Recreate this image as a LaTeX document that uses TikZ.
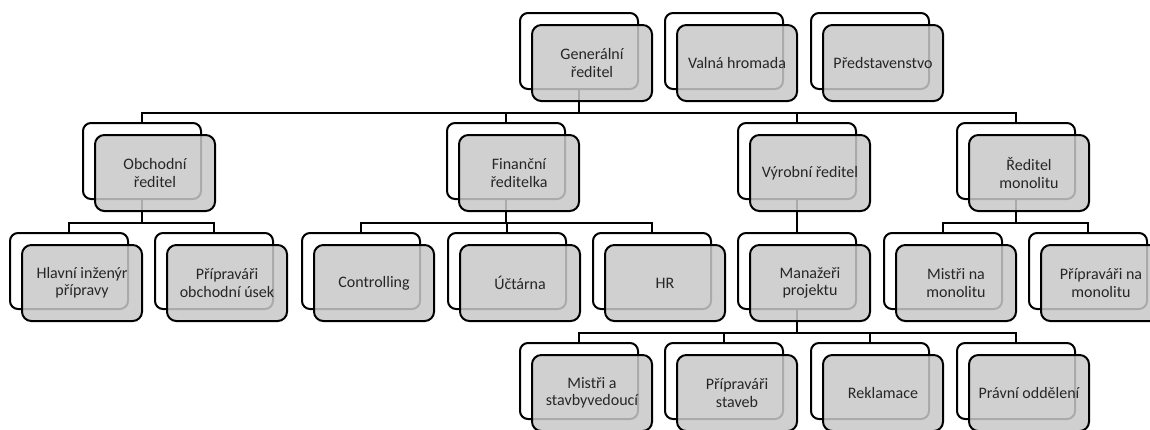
\documentclass[tikz,border=0pt]{standalone}
\usepackage{fontspec}
\setmainfont{Carlito}
\begin{document}
\begin{tikzpicture}[x=0.75pt,y=-0.75pt,
  backbox/.style={draw=black,line width=1.5pt,fill=white,rounded corners=6pt,
    minimum width=88.5pt,minimum height=57pt,inner sep=0pt},
  frontbox/.style={draw=black,line width=1.5pt,fill=cardgray,fill opacity=0.85,
    text opacity=1,rounded corners=7pt,minimum width=90pt,minimum height=57pt,
    inner sep=0pt,align=center,text=black!85,font=\fontsize{12}{13}\selectfont},
  link/.style={draw=black,line width=1.5pt}]
\definecolor{cardgray}{RGB}{200,200,200}
\clip (0,0) rectangle (1150,429);
\fill[white] (0,0) rectangle (1150,429);

% back cards
\node[backbox] (gen-b)  at (579,51) {};
\node[backbox] (valna-b) at (724,51) {};
\node[backbox] (pred-b) at (870,51) {};

\node[backbox] (obch-b) at (142,161) {};
\node[backbox] (fin-b)  at (506,161) {};
\node[backbox] (vyr-b)  at (797,161) {};
\node[backbox] (mono-b) at (1016,161) {};

\node[backbox] (hlav-b) at (69,271) {};
\node[backbox] (pobch-b) at (214,271) {};
\node[backbox] (ctrl-b) at (361,271) {};
\node[backbox] (ucet-b) at (507,271) {};
\node[backbox] (hr-b)   at (652,271) {};
\node[backbox] (man-b)  at (797,271) {};
\node[backbox] (mmon-b) at (943,271) {};
\node[backbox] (pmon-b) at (1088,271) {};

\node[backbox] (mist-b) at (579,381) {};
\node[backbox] (pst-b)  at (724,381) {};
\node[backbox] (rekl-b) at (870,381) {};
\node[backbox] (prav-b) at (1016,381) {};

% connectors
\draw[link] (gen-b.south) -- ++(0,23) -| (obch-b.north);
\draw[link] (gen-b.south) -- ++(0,23) -| (fin-b.north);
\draw[link] (gen-b.south) -- ++(0,23) -| (vyr-b.north);
\draw[link] (gen-b.south) -- ++(0,23) -| (mono-b.north);

\draw[link] (obch-b.south) -- ++(0,23) -| (hlav-b.north);
\draw[link] (obch-b.south) -- ++(0,23) -| (pobch-b.north);

\draw[link] (fin-b.south) -- ++(0,23) -| (ctrl-b.north);
\draw[link] (fin-b.south) -- ++(0,23) -| (ucet-b.north);
\draw[link] (fin-b.south) -- ++(0,23) -| (hr-b.north);

\draw[link] (vyr-b.south) -- (man-b.north);

\draw[link] (mono-b.south) -- ++(0,23) -| (mmon-b.north);
\draw[link] (mono-b.south) -- ++(0,23) -| (pmon-b.north);

\draw[link] (man-b.south) -- ++(0,23) -| (mist-b.north);
\draw[link] (man-b.south) -- ++(0,23) -| (pst-b.north);
\draw[link] (man-b.south) -- ++(0,23) -| (rekl-b.north);
\draw[link] (man-b.south) -- ++(0,23) -| (prav-b.north);

% front cards
\node[frontbox] (gen)   at ([shift={(13,12)}]gen-b.center) {Generální\\ředitel};
\node[frontbox] (valna) at ([shift={(13,12)}]valna-b.center) {Valná hromada};
\node[frontbox] (pred)  at ([shift={(13,12)}]pred-b.center) {Představenstvo};

\node[frontbox] (obch)  at ([shift={(13,12)}]obch-b.center) {Obchodní\\ředitel};
\node[frontbox] (fin)   at ([shift={(13,12)}]fin-b.center) {Finanční\\ředitelka};
\node[frontbox] (vyr)   at ([shift={(13,12)}]vyr-b.center) {Výrobní ředitel};
\node[frontbox] (mono)  at ([shift={(13,12)}]mono-b.center) {Ředitel\\monolitu};

\node[frontbox] (hlav)  at ([shift={(13,12)}]hlav-b.center) {Hlavní inženýr\\přípravy};
\node[frontbox] (pobch) at ([shift={(13,12)}]pobch-b.center) {Přípraváři\\obchodní úsek};
\node[frontbox] (ctrl)  at ([shift={(13,12)}]ctrl-b.center) {Controlling};
\node[frontbox] (ucet)  at ([shift={(13,12)}]ucet-b.center) {Účtárna};
\node[frontbox] (hr)    at ([shift={(13,12)}]hr-b.center) {HR};
\node[frontbox] (man)   at ([shift={(13,12)}]man-b.center) {Manažeři\\projektu};
\node[frontbox] (mmon)  at ([shift={(13,12)}]mmon-b.center) {Mistři na\\monolitu};
\node[frontbox] (pmon)  at ([shift={(13,12)}]pmon-b.center) {Přípraváři na\\monolitu};

\node[frontbox] (mist)  at ([shift={(13,12)}]mist-b.center) {Mistři a\\stavbyvedoucí};
\node[frontbox] (pst)   at ([shift={(13,12)}]pst-b.center) {Přípraváři\\staveb};
\node[frontbox] (rekl)  at ([shift={(13,12)}]rekl-b.center) {Reklamace};
\node[frontbox] (prav)  at ([shift={(13,12)}]prav-b.center) {Právní oddělení};
\end{tikzpicture}
\end{document}
